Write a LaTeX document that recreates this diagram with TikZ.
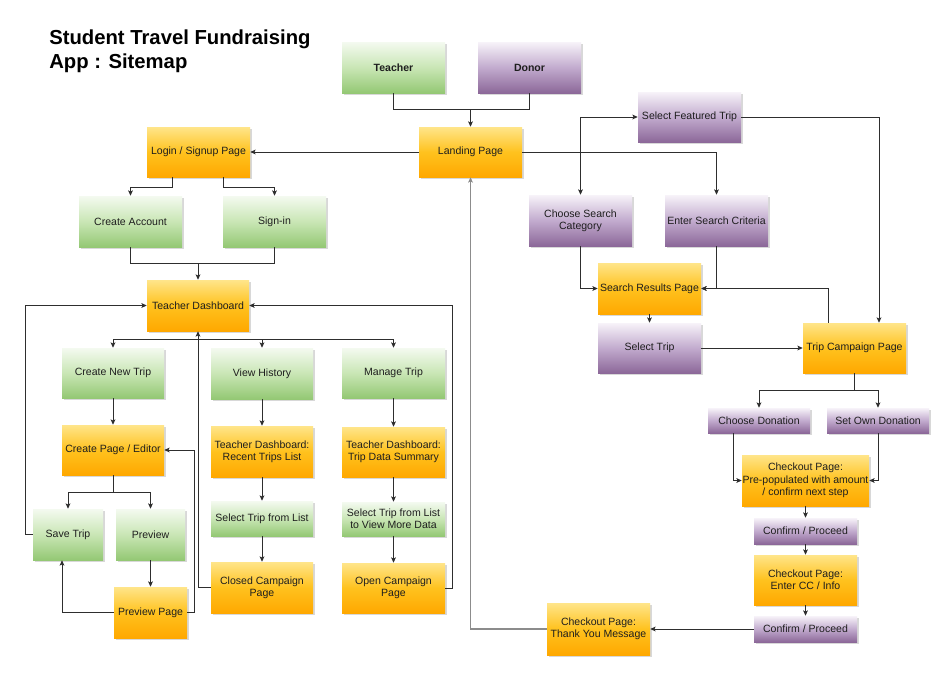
\documentclass[tikz,border=0pt]{standalone}
\usepackage{fontspec}
\setmainfont{Liberation Sans}
\usetikzlibrary{arrows.meta,calc,shadows}
\definecolor{gtop}{HTML}{F4FAF0}\definecolor{gmid}{HTML}{C9E6B5}\definecolor{gbot}{HTML}{94C874}
\definecolor{ptop}{HTML}{F7F3F9}\definecolor{pmid}{HTML}{C2ABCE}\definecolor{pbot}{HTML}{8C6899}
\definecolor{otop}{HTML}{FFE58A}\definecolor{omid}{HTML}{FFC21E}\definecolor{obot}{HTML}{FFA800}
\definecolor{ink}{HTML}{1E1E1E}\definecolor{wire}{HTML}{2E2E2E}\definecolor{greywire}{HTML}{8C8C8C}
\tikzset{
  boxbase/.style={inner xsep=0pt, inner ysep=1pt, align=center, text=ink, font=\fontsize{7.9}{9.2}\selectfont,
    drop shadow={shadow xshift=1.2pt, shadow yshift=-1.2pt, fill=black!30, opacity=0.5}},
  gbox/.style={boxbase, top color=gtop, bottom color=gbot, middle color=gmid},
  pbox/.style={boxbase, top color=ptop, bottom color=pbot, middle color=pmid},
  obox/.style={boxbase, top color=otop, bottom color=obot, middle color=omid},
  wireline/.style={draw=wire, line width=0.7pt},
  arr/.style={wireline, -{Stealth[length=4pt,width=3.6pt,inset=0.9pt]}},
  greyarr/.style={draw=greywire, line width=1pt, -{Stealth[length=4pt,width=3.6pt,inset=0.9pt]}},
}
\newcommand\sitebox[7]{\node[#2, minimum width={(#5-#3)*0.75pt}, minimum height={(#6-#4)*0.75pt}] (#1) at ({(#3+#5)/2},{(#4+#6)/2}) {#7};}
\begin{document}
\begin{tikzpicture}[x=0.75pt,y=-0.75pt]
\useasboundingbox (0,0) rectangle (950,693);
\fill[white] (0,0) rectangle (950,693);
\node[anchor=north west, inner sep=0pt, align=left, font=\fontsize{15.2}{17.8}\selectfont\bfseries, text=black] (title) at (49,29.5) {Student Travel Fundraising\\App : Sitemap};

% top
\sitebox{teacher}{gbox}{342}{42}{445}{93}{\bfseries Teacher}
\sitebox{donor}{pbox}{478}{42}{581}{93}{\bfseries Donor}
\sitebox{landing}{obox}{419}{127}{522}{177}{Landing Page}
\sitebox{login}{obox}{147}{127}{250}{177}{Login / Signup Page}
\sitebox{createacc}{gbox}{79}{196}{182}{247}{Create Account}
\sitebox{signin}{gbox}{223}{196}{326}{247}{Sign-in}
\sitebox{tdash}{obox}{147}{280}{249}{331}{Teacher Dashboard}

% teacher branches
\sitebox{newtrip}{gbox}{62}{348}{164}{398}{Create New Trip}
\sitebox{editor}{obox}{62}{425}{164}{475}{Create Page / Editor}
\sitebox{savetrip}{gbox}{33}{509}{103}{560}{Save Trip}
\sitebox{preview}{gbox}{116}{509}{185}{560}{Preview}
\sitebox{previewpage}{obox}{114}{587}{187}{638}{Preview Page}
\sitebox{history}{gbox}{211}{348}{313}{399}{View History}
\sitebox{recent}{obox}{211}{426}{313}{477}{Teacher Dashboard:\\Recent Trips List}
\sitebox{selecttripa}{gbox}{211}{501}{313}{536}{Select Trip from List}
\sitebox{closed}{obox}{211}{562}{313}{613}{Closed Campaign\\Page}
\sitebox{manage}{gbox}{342}{348}{445}{398}{Manage Trip}
\sitebox{summary}{obox}{342}{427}{445}{477}{Teacher Dashboard:\\Trip Data Summary}
\sitebox{selecttripb}{gbox}{342}{502}{445}{536}{Select Trip from List\\to View More Data}
\sitebox{open}{obox}{342}{563}{445}{613}{Open Campaign\\Page}

% donor branches
\sitebox{featured}{pbox}{638}{92}{741}{142}{Select Featured Trip}
\sitebox{category}{pbox}{529}{195}{632}{246}{Choose Search\\Category}
\sitebox{criteria}{pbox}{665}{195}{768}{246}{Enter Search Criteria}
\sitebox{results}{obox}{598}{263}{701}{314}{Search Results Page}
\sitebox{seltrip}{pbox}{598}{323}{701}{373}{Select Trip}
\sitebox{campaign}{obox}{803}{323}{906}{373}{Trip Campaign Page}
\sitebox{choosedon}{pbox}{708}{408}{810}{433}{Choose Donation}
\sitebox{owndon}{pbox}{827}{408}{929}{433}{Set Own Donation}
\sitebox{checkouta}{obox}{742}{455}{869}{506}{Checkout Page:\\Pre-populated with amount\\/ confirm next step}
\sitebox{confirma}{pbox}{754}{518}{857}{544}{Confirm / Proceed}
\sitebox{checkoutb}{obox}{754}{555}{857}{605}{Checkout Page:\\Enter CC / Info}
\sitebox{confirmb}{pbox}{754}{616}{857}{642}{Confirm / Proceed}
\sitebox{thanks}{obox}{547}{603}{650}{655}{Checkout Page:\\Thank You Message}

% connectors: top
\coordinate (j1) at (470.5,109);
\draw[wireline] (teacher.south) |- (j1);
\draw[wireline] (donor.south) |- (j1);
\draw[arr] (j1) -- (landing.north);
\draw[arr] (landing.west) -- (login.east);
\draw[arr] (landing.east) -| (criteria.north);
\coordinate (j2) at (580.5,152);
\draw[arr] (j2) |- (featured.west);
\draw[arr] (j2) -- (category.north);
\draw[arr] (featured.east) -| ($(campaign.north)+(24.5,0)$);
\draw[arr] (category.south) |- (results.west);
\draw[arr] (criteria.south) |- (results.east);
\draw[arr] ($(campaign.north)+(-26.5,0)$) |- (results.east);
\draw[arr] (results.south) -- (seltrip.north);
\draw[arr] (seltrip.east) -- (campaign.west);
\coordinate (j3) at (854.5,390);
\draw[wireline] (campaign.south) -- (j3);
\draw[arr] (j3) -| (choosedon.north);
\draw[arr] (j3) -| (owndon.north);
\draw[arr] ($(choosedon.south)+(-26,0)$) |- (checkouta.west);
\draw[arr] (owndon.south) |- (checkouta.east);
\draw[arr] (checkouta.south) -- (confirma.north);
\draw[arr] (confirma.south) -- (checkoutb.north);
\draw[arr] (checkoutb.south) -- (confirmb.north);
\draw[arr] (confirmb.west) -- (thanks.east);
\draw[greyarr] (thanks.west) -| (landing.south);

% connectors: teacher side
\draw[arr] ($(login.south)+(-26,0)$) -- ++(0,10) -| (createacc.north);
\draw[arr] ($(login.south)+(25,0)$) -- ++(0,10) -| (signin.north);
\coordinate (j5) at (198,263);
\draw[wireline] (createacc.south) |- (j5);
\draw[wireline] (signin.south) |- (j5);
\draw[arr] (j5) -- (tdash.north);
\coordinate (j6) at (198,339);
\draw[arr] (j6) -| (newtrip.north);
\draw[arr] (j6) -| (history.north);
\draw[arr] (j6) -| (manage.north);
\draw[arr] (closed.west) -| (tdash.south);
\draw[arr] (open.east) -- ++(7,0) |- (tdash.east);
\draw[arr] (savetrip.west) -- ++(-7,0) |- (tdash.west);
\draw[arr] (newtrip.south) -- (editor.north);
\coordinate (j7) at (113,492);
\draw[wireline] (editor.south) -- (j7);
\draw[arr] (j7) -| (savetrip.north);
\draw[arr] (j7) -| (preview.north);
\draw[arr] (preview.south) -- (previewpage.north);
\draw[arr] (previewpage.west) -| ($(savetrip.south)+(-6,0)$);
\draw[arr] (previewpage.east) -- ++(7,0) |- (editor.east);
\draw[arr] (history.south) -- (recent.north);
\draw[arr] (recent.south) -- (selecttripa.north);
\draw[arr] (selecttripa.south) -- (closed.north);
\draw[arr] (manage.south) -- (summary.north);
\draw[arr] (summary.south) -- (selecttripb.north);
\draw[arr] (selecttripb.south) -- (open.north);
\end{tikzpicture}
\end{document}
